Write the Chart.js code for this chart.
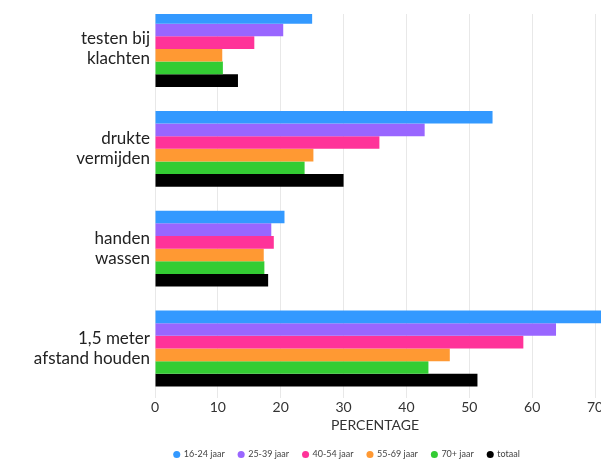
<!DOCTYPE html>
<html><head><meta charset="utf-8">
<script src="https://cdn.jsdelivr.net/npm/chart.js@4"></script>
<style>
html,body{margin:0;padding:0;background:#fff;overflow:hidden;width:601px;height:459px}
#clip{position:absolute;left:0;top:14px;width:601px;height:445px;overflow:hidden}
#box{position:absolute;left:0;top:-40px;width:694px;height:495px}
</style></head><body>
<div id="clip"><div id="box"><canvas id="c"></canvas></div></div>
<script>
const categories = [["testen bij","klachten"],["drukte","vermijden"],["handen","wassen"],["1,5 meter","afstand houden"]];
const seriesNames = ["16-24 jaar","25-39 jaar","40-54 jaar","55-69 jaar","70+ jaar","totaal"];
const age16_24 = [25.0, 53.7, 20.6, 72.0];
const age25_39 = [20.4, 42.9, 18.5, 63.8];
const age40_54 = [15.8, 35.7, 18.9, 58.6];
const age55_69 = [10.7, 25.2, 17.3, 46.9];
const age70plus = [10.8, 23.8, 17.4, 43.5];
const totaal = [13.2, 30.0, 18.0, 51.3];
const xTicks = [0, 10, 20, 30, 40, 50, 60, 70];
const axisTitle = "PERCENTAGE";

const seriesValues = [age16_24, age25_39, age40_54, age55_69, age70plus, totaal];
const colors = ['#3399ff', '#9966ff', '#ff3399', '#ff9933', '#33cc33', '#000000'];
const FONT = 'Lato, "Open Sans", sans-serif';

new Chart(document.getElementById('c'), {
  type: 'bar',
  data: {
    labels: categories,
    datasets: seriesNames.map((n, i) => ({
      label: n,
      data: seriesValues[i],
      backgroundColor: colors[i],
      borderWidth: 0,
      barPercentage: 1.0,
      categoryPercentage: 0.76,
      clip: false
    }))
  },
  options: {
    indexAxis: 'y',
    responsive: true,
    maintainAspectRatio: false,
    animation: false,
    layout: { padding: { left: 0, right: 0, top: 0, bottom: 0 } },
    scales: {
      x: {
        min: xTicks[0], max: xTicks[xTicks.length - 1],
        afterBuildTicks: (s) => { s.ticks = xTicks.map(v => ({ value: v })); },
        afterFit: (s) => { s.paddingRight = 99; },
        grid: { color: '#e8e8e8', drawTicks: false },
        border: { display: false },
        ticks: { color: '#333', font: { family: FONT, size: 14 }, padding: 1 },
        title: { display: true, text: axisTitle, color: '#333', font: { family: FONT, size: 14 }, padding: { top: 0, bottom: 2 } }
      },
      y: {
        grid: { display: false, drawTicks: false },
        border: { display: false },
        afterFit: (s) => { s.width = 155; },
        ticks: { color: '#222', font: { family: FONT, size: 17, lineHeight: 1.18 }, padding: 5 }
      }
    },
    plugins: {
      legend: {
        position: 'bottom',
        labels: {
          usePointStyle: true, pointStyle: 'circle', boxWidth: 5, boxHeight: 5,
          color: '#444', font: { family: FONT, size: 9 }, padding: 14
        }
      },
      tooltip: { enabled: false }
    }
  }
});
</script></body></html>
